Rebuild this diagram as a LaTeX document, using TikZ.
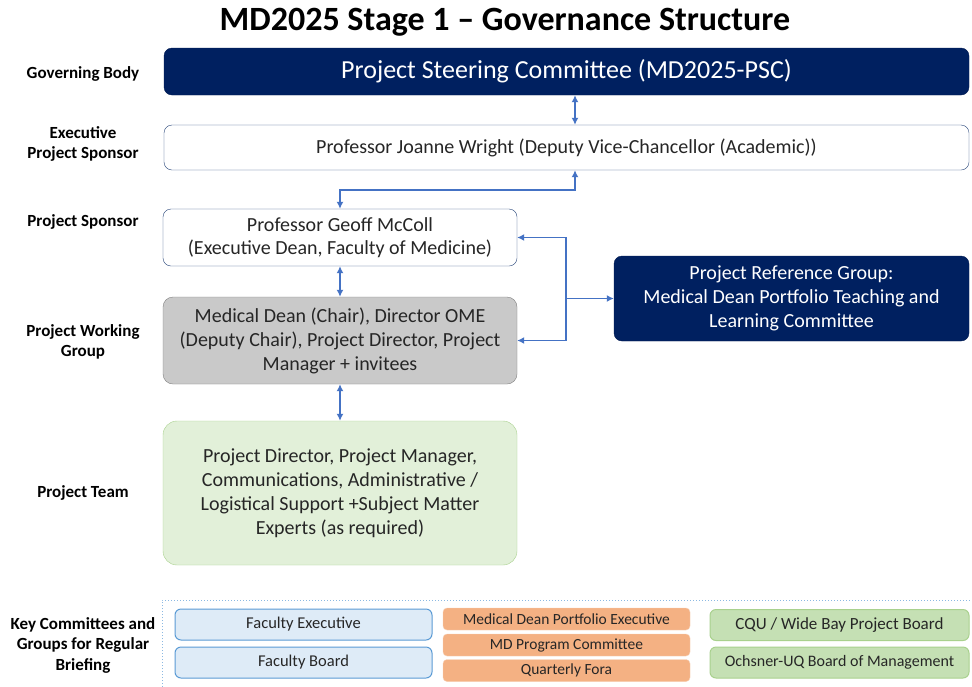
\documentclass[tikz,border=0pt]{standalone}
\usepackage{fontspec}
\setmainfont{Carlito}
\usetikzlibrary{positioning, arrows.meta}
\definecolor{navy}{HTML}{002060}
\definecolor{edgeblue}{HTML}{2F5597}
\definecolor{arrowblue}{HTML}{4472C4}
\definecolor{wggray}{HTML}{C9C9C9}
\definecolor{teamgreen}{HTML}{E2F0D9}
\definecolor{midgreen}{HTML}{C5E0B4}
\definecolor{greenline}{HTML}{A9D18E}
\definecolor{paleblue}{HTML}{DEEBF7}
\definecolor{lineblue}{HTML}{5B9BD5}
\definecolor{peach}{HTML}{F4B183}
\definecolor{textgray}{HTML}{262626}
\tikzstyle{level} = [font=\bfseries\fontsize{17}{20.5}\selectfont, align=center, text=black]
\tikzstyle{navybox} = [rectangle, rounded corners=8pt, fill=navy, draw=navy!85!black, text=white, align=center]
\tikzstyle{whitebox} = [rectangle, rounded corners=8pt, fill=white, draw=edgeblue!80!black, text=textgray, align=center, font=\fontsize{20}{23}\selectfont]
\tikzstyle{graybox} = [rectangle, rounded corners=10pt, fill=wggray, draw=gray, text=textgray, align=center, font=\fontsize{20}{24}\selectfont]
\tikzstyle{teambox} = [rectangle, rounded corners=14pt, fill=teamgreen, draw=greenline, text=textgray, align=center, font=\fontsize{20}{24}\selectfont]
\tikzstyle{facbox} = [rectangle, rounded corners=6pt, fill=paleblue, draw=lineblue, line width=1pt, text=textgray, minimum width=257pt, minimum height=31pt, font=\fontsize{16.5}{18}\selectfont]
\tikzstyle{peachbox} = [rectangle, rounded corners=4pt, fill=peach, draw=peach!60, text=textgray, minimum width=247pt, minimum height=22pt, inner sep=1pt, font=\fontsize{15.5}{17}\selectfont]
\tikzstyle{greenbox} = [rectangle, rounded corners=6pt, fill=midgreen, draw=greenline, line width=1pt, text=textgray, minimum width=259pt, minimum height=31pt, font=\fontsize{16}{18}\selectfont]
\tikzstyle{arrow} = [line width=1.6pt, arrowblue, -{Latex[length=7pt,width=7pt]}]
\tikzstyle{dblarrow} = [line width=1.6pt, arrowblue, {Latex[length=7pt,width=7pt]}-{Latex[length=7pt,width=7pt]}]

\begin{document}
\begin{tikzpicture}[x=1pt, y=-1pt]
  \useasboundingbox [fill=white] (0,0) rectangle (972,686);
  \node (title) at (505,22) {\fontsize{34}{38}\selectfont\bfseries MD2025 Stage 1 -- Governance Structure};

  % row labels
  \node (lgov) [level] at (83,74) {Governing Body};
  \node (lexec) [level] at (83,144) {Executive\\Project Sponsor};
  \node (lspon) [level] at (83,222) {Project Sponsor};
  \node (lwg) [level] at (83,342) {Project Working\\Group};
  \node (lteam) [level] at (83,493) {Project Team};
  \node (lkey) [level] at (83,645) {Key Committees and\\Groups for Regular\\Briefing};

  % main boxes
  \node (psc) [navybox, minimum width=805pt, minimum height=47pt, font=\fontsize{26}{30}\selectfont] at (566.5,71.5) {Project Steering Committee (MD2025-PSC)};
  \node (exec) [whitebox, minimum width=805pt, minimum height=45pt] at (566.5,147.5) {Professor Joanne Wright (Deputy Vice-Chancellor (Academic))};
  \node (spon) [whitebox, minimum width=354pt, minimum height=57pt] at (340,237.5) {Professor Geoff McColl\\(Executive Dean, Faculty of Medicine)};
  \node (wg) [graybox, minimum width=354pt, minimum height=87pt] at (340,340.5) {Medical Dean (Chair), Director OME\\(Deputy Chair), Project Director, Project\\Manager + invitees};
  \node (team) [teambox, minimum width=354pt, minimum height=144pt] at (340,493) {Project Director, Project Manager,\\Communications, Administrative /\\Logistical Support +Subject Matter\\Experts (as required)};
  \node (ref) [navybox, minimum width=355pt, minimum height=85pt, font=\fontsize{20}{24}\selectfont] at (791.5,298.5) {Project Reference Group:\\Medical Dean Portfolio Teaching and\\Learning Committee};

  % connectors
  \draw [dblarrow] ([xshift=8.5pt]psc.south) -- ([xshift=8.5pt]exec.north);
  \draw [dblarrow] ([xshift=8.5pt]exec.south) -- ++(0,20) -| (spon.north);
  \draw [dblarrow] (spon) -- (wg);
  \draw [dblarrow] (wg) -- (team);
  \coordinate (junc) at (566,298.5);
  \draw [arrow] (junc) |- (spon.east);
  \draw [arrow] (junc) |- (wg.east);
  \draw [arrow] (junc) -- (ref.west);

  % briefing groups
  \draw [lineblue!70, line width=1pt, dotted] (162,690) -- (162,600) -- (980,600);
  \node (facexec) [facbox] at (303.5,624.5) {Faculty Executive};
  \node (facboard) [facbox] at (303.5,662.5) {Faculty Board};
  \node (mdpe) [peachbox] at (566.5,619) {Medical Dean Portfolio Executive};
  \node (mdpc) [peachbox] at (566.5,645) {MD Program Committee};
  \node (fora) [peachbox] at (566.5,670.5) {Quarterly Fora};
  \node (cqu) [greenbox, font=\fontsize{17}{19}\selectfont] at (839.5,625) {CQU / Wide Bay Project Board};
  \node (ochs) [greenbox] at (839.5,662.5) {Ochsner-UQ Board of Management};
\end{tikzpicture}
\end{document}
